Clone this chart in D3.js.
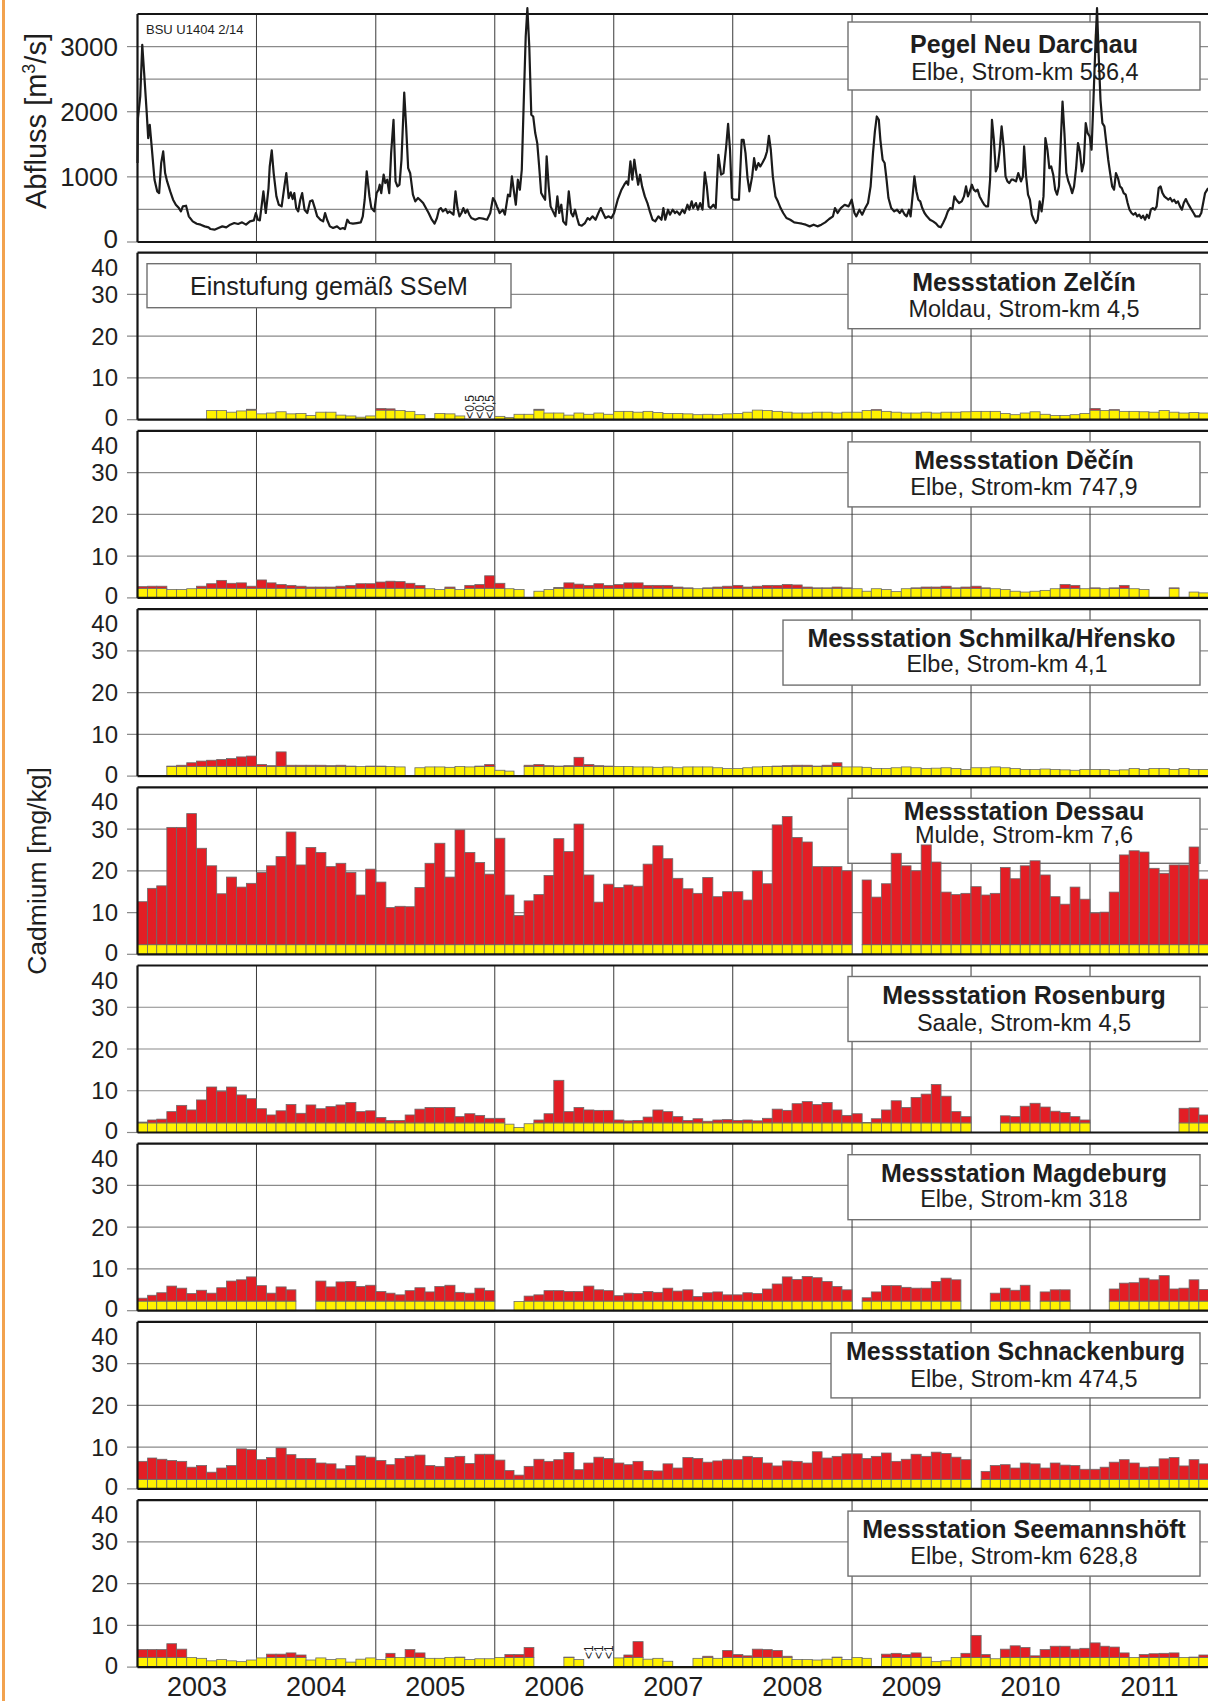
<!DOCTYPE html>
<html>
<head>
<meta charset="utf-8">
<script src="https://cdn.jsdelivr.net/npm/d3@7"></script>
<style>
  html, body { margin: 0; padding: 0; background: #fff; }
  svg { display: block; font-family: "Liberation Sans", Arial, Helvetica, sans-serif; }
</style>
</head>
<body>
<svg id="chart" width="1208" height="1701"></svg>
<script>
// ---------------------------------------------------------------
// Data
// ---------------------------------------------------------------
const yearLabels = ["2003", "2004", "2005", "2006", "2007", "2008", "2009", "2010", "2011"];
const dischargeTicks = [0, 1000, 2000, 3000];
const cadmiumTicks = [0, 10, 20, 30, 40];
// SSeM upper threshold for cadmium [mg/kg]
const cdThreshold = 2.3;

// Discharge at gauge Neu Darchau: [decimal year, m3/s]
const discharge = [
  [2003.000,1211],[2003.004,1900],[2003.023,2234],[2003.040,3026],[2003.056,2592],[2003.076,2029],[2003.090,1595],
  [2003.103,1800],[2003.119,1467],[2003.143,956],[2003.166,777],[2003.182,751],[2003.199,1211],[2003.216,1390],
  [2003.232,1058],[2003.249,930],[2003.275,777],[2003.299,649],[2003.322,572],[2003.348,521],[2003.365,470],
  [2003.381,547],[2003.408,557],[2003.431,394],[2003.464,317],[2003.498,281],[2003.531,266],[2003.564,240],
  [2003.597,225],[2003.614,199],[2003.647,189],[2003.680,215],[2003.713,240],[2003.746,225],[2003.779,266],
  [2003.813,291],[2003.846,276],[2003.879,302],[2003.912,266],[2003.945,317],[2003.978,332],[2003.995,445],
  [2004.012,342],[2004.028,332],[2004.058,777],[2004.078,445],[2004.101,828],[2004.111,1160],[2004.128,1406],
  [2004.144,1058],[2004.167,700],[2004.187,572],[2004.211,547],[2004.234,854],[2004.250,1058],[2004.270,675],
  [2004.287,762],[2004.303,659],[2004.317,751],[2004.333,521],[2004.350,470],[2004.367,649],[2004.383,751],
  [2004.403,496],[2004.426,445],[2004.449,624],[2004.469,639],[2004.493,496],[2004.509,394],[2004.536,342],
  [2004.559,317],[2004.575,445],[2004.592,342],[2004.615,240],[2004.642,215],[2004.675,240],[2004.701,199],
  [2004.725,215],[2004.741,199],[2004.761,342],[2004.781,291],[2004.808,281],[2004.841,291],[2004.874,302],
  [2004.891,394],[2004.907,649],[2004.924,1084],[2004.947,700],[2004.963,521],[2004.987,470],[2005.007,751],
  [2005.023,803],[2005.033,879],[2005.046,751],[2005.066,1033],[2005.080,905],[2005.096,956],[2005.113,751],
  [2005.129,1365],[2005.149,1876],[2005.166,930],[2005.182,854],[2005.199,879],[2005.216,1263],[2005.239,2295],
  [2005.255,1774],[2005.272,1135],[2005.289,1058],[2005.312,726],[2005.332,624],[2005.355,675],[2005.371,649],
  [2005.398,598],[2005.421,521],[2005.444,445],[2005.471,342],[2005.494,281],[2005.514,368],[2005.531,496],
  [2005.547,521],[2005.564,470],[2005.587,506],[2005.604,445],[2005.620,470],[2005.653,419],[2005.670,777],
  [2005.687,521],[2005.703,394],[2005.720,445],[2005.736,521],[2005.753,445],[2005.769,496],[2005.786,419],
  [2005.803,368],[2005.836,342],[2005.869,368],[2005.902,358],[2005.935,342],[2005.962,445],[2005.985,675],
  [2006.002,624],[2006.018,547],[2006.041,445],[2006.068,496],[2006.085,419],[2006.111,726],[2006.128,700],
  [2006.144,1007],[2006.161,777],[2006.177,572],[2006.194,956],[2006.211,803],[2006.227,1109],[2006.244,2183],
  [2006.260,3154],[2006.274,3589],[2006.290,3001],[2006.307,1953],[2006.323,1927],[2006.340,1672],[2006.357,1518],
  [2006.373,1160],[2006.390,751],[2006.406,700],[2006.423,649],[2006.436,1314],[2006.453,854],[2006.469,547],
  [2006.489,470],[2006.509,394],[2006.526,700],[2006.542,445],[2006.559,572],[2006.575,317],[2006.599,266],
  [2006.622,777],[2006.642,445],[2006.658,394],[2006.675,496],[2006.692,368],[2006.708,266],[2006.731,250],
  [2006.758,291],[2006.781,368],[2006.798,342],[2006.821,394],[2006.847,342],[2006.871,445],[2006.891,521],
  [2006.910,445],[2006.930,368],[2006.957,394],[2006.980,368],[2007.003,445],[2007.033,649],[2007.065,803],
  [2007.088,879],[2007.107,930],[2007.121,879],[2007.140,1237],[2007.156,956],[2007.173,1263],[2007.189,1058],
  [2007.205,879],[2007.221,1033],[2007.238,854],[2007.261,700],[2007.283,598],[2007.303,470],[2007.326,342],
  [2007.349,317],[2007.375,394],[2007.401,342],[2007.417,521],[2007.433,342],[2007.456,496],[2007.472,419],
  [2007.495,496],[2007.515,445],[2007.531,470],[2007.554,419],[2007.577,496],[2007.596,445],[2007.619,572],
  [2007.635,496],[2007.655,624],[2007.668,521],[2007.691,598],[2007.707,496],[2007.726,598],[2007.746,496],
  [2007.765,1068],[2007.782,854],[2007.798,547],[2007.814,521],[2007.837,572],[2007.857,521],[2007.879,1339],
  [2007.902,1033],[2007.922,1058],[2007.945,1467],[2007.961,1815],[2007.977,1416],[2007.993,675],[2008.010,649],
  [2008.033,649],[2008.052,649],[2008.075,1569],[2008.091,1569],[2008.107,1365],[2008.124,981],[2008.140,777],
  [2008.163,1007],[2008.179,1288],[2008.195,1109],[2008.215,1212],[2008.231,1160],[2008.248,1212],[2008.270,1288],
  [2008.287,1390],[2008.303,1631],[2008.319,1416],[2008.336,1007],[2008.358,700],[2008.378,624],[2008.401,521],
  [2008.423,445],[2008.450,368],[2008.482,342],[2008.515,302],[2008.547,291],[2008.580,281],[2008.612,266],
  [2008.645,240],[2008.678,266],[2008.710,240],[2008.743,266],[2008.775,302],[2008.808,353],[2008.840,394],
  [2008.857,521],[2008.879,445],[2008.906,521],[2008.938,572],[2008.971,547],[2008.997,649],[2009.020,445],
  [2009.036,394],[2009.062,496],[2009.085,419],[2009.111,521],[2009.134,598],[2009.156,854],[2009.176,1365],
  [2009.192,1697],[2009.208,1927],[2009.225,1876],[2009.238,1569],[2009.257,1263],[2009.274,1212],[2009.290,956],
  [2009.306,675],[2009.329,521],[2009.355,470],[2009.378,496],[2009.401,445],[2009.420,496],[2009.443,419],
  [2009.459,394],[2009.479,496],[2009.492,394],[2009.511,751],[2009.524,1007],[2009.541,777],[2009.557,649],
  [2009.573,624],[2009.590,521],[2009.609,445],[2009.629,394],[2009.655,342],[2009.681,317],[2009.707,281],
  [2009.726,240],[2009.746,225],[2009.765,291],[2009.785,368],[2009.805,470],[2009.824,521],[2009.844,506],
  [2009.860,700],[2009.876,649],[2009.899,598],[2009.922,624],[2009.941,700],[2009.958,854],[2009.974,700],
  [2009.990,777],[2010.007,879],[2010.023,803],[2010.039,777],[2010.055,803],[2010.072,700],[2010.094,624],
  [2010.111,572],[2010.127,547],[2010.143,547],[2010.160,956],[2010.176,1876],[2010.192,1569],[2010.208,1084],
  [2010.225,1160],[2010.241,1416],[2010.257,1774],[2010.274,1467],[2010.290,1007],[2010.306,930],[2010.322,905],
  [2010.339,956],[2010.355,956],[2010.378,930],[2010.397,1058],[2010.420,930],[2010.436,1007],[2010.446,1467],
  [2010.463,1007],[2010.479,726],[2010.495,649],[2010.511,419],[2010.528,342],[2010.544,291],[2010.560,342],
  [2010.577,624],[2010.593,470],[2010.609,700],[2010.625,1595],[2010.642,1416],[2010.658,1135],[2010.674,1160],
  [2010.691,1033],[2010.707,803],[2010.723,726],[2010.739,854],[2010.756,1621],[2010.769,2157],[2010.785,1672],
  [2010.801,1058],[2010.818,930],[2010.834,854],[2010.850,751],[2010.866,854],[2010.883,1135],[2010.899,1518],
  [2010.915,1390],[2010.932,1084],[2010.948,1212],[2010.964,1825],[2010.980,1672],[2010.997,1621],[2011.013,1416],
  [2011.029,2183],[2011.046,3052],[2011.059,3589],[2011.072,2899],[2011.088,2183],[2011.104,1825],[2011.121,1774],
  [2011.137,1518],[2011.153,1263],[2011.169,1058],[2011.186,854],[2011.202,803],[2011.218,1058],[2011.235,981],
  [2011.251,854],[2011.267,828],[2011.283,751],[2011.300,726],[2011.316,598],[2011.332,496],[2011.349,445],
  [2011.365,419],[2011.381,445],[2011.397,394],[2011.414,419],[2011.430,368],[2011.446,404],[2011.463,342],
  [2011.479,419],[2011.495,368],[2011.511,496],[2011.528,521],[2011.544,496],[2011.560,547],[2011.577,828],
  [2011.593,854],[2011.609,751],[2011.625,700],[2011.642,675],[2011.658,649],[2011.674,675],[2011.691,624],
  [2011.707,649],[2011.723,598],[2011.739,624],[2011.756,547],[2011.772,496],[2011.788,598],[2011.805,659],
  [2011.821,598],[2011.837,547],[2011.853,496],[2011.870,445],[2011.886,394],[2011.902,394],[2011.919,394],
  [2011.935,445],[2011.951,598],[2011.967,751],[2011.993,828]
];

// Monthly cadmium in suspended matter [mg/kg], Jan 2003 .. Dec 2011 (null = no sample)
const cdZelcin = [
  null,null,null,null,null,null,null,2.2,2.2,1.8,2.1,2.5,
  1.4,1.6,1.9,1.4,1.5,1.0,1.8,1.8,1.1,0.9,0.6,0.9,
  2.7,2.6,2.2,2.0,1.2,0.3,1.5,1.4,0.9,null,null,null,
  0.8,0.5,1.3,1.3,2.5,1.6,1.6,1.1,1.6,1.3,1.6,1.3,
  2.0,2.0,1.8,2.0,1.7,1.5,1.5,1.4,1.2,1.3,1.2,1.4,
  1.5,1.8,2.3,2.2,2.0,1.8,1.6,1.6,1.8,1.8,1.6,1.8,
  1.8,2.2,2.4,2.0,1.8,1.6,1.6,1.8,1.6,1.8,1.8,1.9,
  2.0,2.0,2.0,1.5,1.2,1.6,1.9,1.3,1.0,1.0,1.2,1.5,
  2.7,2.2,2.4,2.0,2.0,1.9,1.8,2.2,1.8,1.6,1.7,1.6
];
const cdDecin = [
  2.7,2.8,2.8,2.0,2.0,2.2,2.8,3.4,4.2,3.5,3.6,2.8,
  4.3,3.6,3.2,3.0,2.8,2.6,2.6,2.6,2.8,3.0,3.4,3.4,
  3.8,4.0,3.9,3.5,3.0,2.2,2.0,2.6,2.0,3.0,3.2,5.3,
  3.5,2.2,2.0,null,1.6,2.0,2.5,3.6,3.3,3.0,3.4,3.0,
  3.2,3.6,3.6,3.0,3.0,3.0,2.6,2.4,2.2,2.4,2.6,2.8,
  3.0,2.6,2.8,3.0,3.0,3.2,3.1,2.6,2.4,2.4,2.6,2.4,
  2.2,1.6,2.2,2.0,1.5,2.2,2.4,2.6,2.6,2.8,2.4,2.6,
  2.8,2.4,2.2,2.0,1.6,1.4,1.6,1.8,2.2,3.2,3.0,2.2,
  2.4,2.2,2.4,3.0,2.2,2.0,null,null,2.4,null,1.4,1.2
];
const cdSchmilka = [
  null,null,null,2.4,2.6,3.2,3.6,3.8,4.0,4.2,4.6,4.8,
  2.8,2.5,5.8,2.6,2.6,2.6,2.6,2.5,2.6,2.4,2.3,2.4,
  2.4,2.3,2.2,null,2.0,2.2,2.2,2.1,2.3,2.2,2.4,2.8,
  1.4,1.2,null,2.6,2.8,2.5,2.4,2.5,4.5,2.8,2.5,2.4,
  2.3,2.3,2.2,2.2,2.1,2.2,2.0,2.2,2.2,2.2,2.0,1.8,
  1.8,2.0,2.2,2.3,2.4,2.5,2.6,2.6,2.4,2.6,3.2,2.2,
  2.2,2.1,1.8,1.8,2.0,2.2,2.0,1.8,1.9,2.0,1.8,1.6,
  2.0,2.0,2.2,2.0,1.8,1.6,1.6,1.7,1.6,1.5,1.4,1.6,
  1.6,1.6,1.4,1.5,1.8,1.6,1.8,1.8,1.6,1.8,1.6,1.6
];
const cdDessau = [
  12.6,15.8,16.4,30.4,30.4,33.7,25.4,21.2,14.5,18.5,16.1,17.0,
  19.6,21.2,23.4,29.3,21.4,25.6,24.4,21.0,21.8,19.6,14.2,20.4,
  17.3,11.2,11.5,11.4,16.0,21.8,26.6,18.5,29.8,24.4,22.0,19.2,
  27.8,14.2,9.3,12.8,14.3,18.9,27.7,24.6,31.2,19.0,12.5,16.8,
  16.0,16.6,16.3,21.6,26.0,22.9,18.2,15.7,14.6,18.4,13.8,15.0,
  15.0,13.0,20.0,16.9,31.0,33.0,28.0,26.9,21.0,21.0,21.0,20.0,
  null,17.8,13.7,16.9,24.2,21.2,20.0,26.2,22.1,14.9,14.3,14.6,
  16.2,14.2,14.6,20.8,18.1,21.2,22.4,19.0,13.8,12.0,16.1,13.2,
  9.9,10.1,14.9,23.8,24.8,24.5,20.6,19.4,21.4,21.4,25.7,18.0
];
const cdRosenburg = [
  2.5,3.0,3.2,5.0,6.5,5.4,7.8,10.9,9.9,10.9,9.0,8.1,
  5.7,4.2,5.2,6.7,4.6,6.6,5.7,6.2,6.6,7.2,5.0,5.2,
  3.6,2.9,2.9,4.2,5.6,6.0,6.0,6.0,3.8,4.5,4.1,3.4,
  3.4,2.0,1.2,2.1,3.0,4.5,12.5,5.0,6.0,5.4,5.3,5.3,
  3.0,2.8,2.9,3.7,5.4,5.0,3.8,2.9,3.3,2.7,3.0,3.1,
  2.9,3.0,2.8,3.4,5.6,5.3,6.9,7.4,6.7,7.2,5.4,4.1,
  4.5,2.4,3.3,5.4,7.6,6.0,8.4,9.2,11.5,8.7,5.0,3.8,
  null,null,null,4.0,3.8,6.3,7.0,6.1,5.1,4.8,3.8,3.0,
  null,null,null,null,null,null,null,null,null,5.8,5.9,4.2
];
const cdMagdeburg = [
  3.0,3.7,4.3,5.9,5.4,4.1,4.9,4.2,5.5,7.1,7.4,8.1,
  6.0,4.2,5.7,5.0,null,null,7.1,5.7,6.9,7.0,5.8,6.1,
  4.6,4.2,3.8,4.8,5.5,4.5,5.8,6.1,4.4,4.2,5.4,4.8,
  null,null,2.2,3.5,3.8,4.8,4.8,4.6,4.6,5.9,5.0,4.8,
  3.6,4.2,4.1,4.6,4.4,5.4,4.7,5.0,3.4,4.3,4.5,3.8,
  3.8,4.3,4.1,5.2,6.4,8.1,7.5,8.2,7.9,7.0,5.8,5.0,
  null,3.1,4.5,6.0,6.0,5.6,5.4,5.4,7.0,7.8,7.4,null,
  null,null,4.2,5.4,4.9,6.1,null,4.5,5.0,5.0,null,null,
  null,null,5.2,6.6,6.7,7.8,7.4,8.4,5.2,5.4,7.4,5.1
];
const cdSchnackenburg = [
  6.6,7.4,7.1,6.8,6.6,5.2,5.6,4.0,5.0,5.6,9.6,9.4,
  7.0,7.5,9.8,8.2,7.3,7.3,6.2,6.0,4.8,5.6,7.9,7.6,
  6.8,5.8,7.3,7.8,8.1,5.6,5.4,7.5,7.8,6.1,8.3,8.3,
  6.9,4.4,3.3,5.4,7.1,6.6,7.0,8.7,4.6,6.2,7.6,7.3,
  6.2,5.8,6.6,4.4,4.3,6.0,5.0,7.5,7.3,6.4,6.7,7.1,
  7.0,7.8,7.5,6.2,5.5,6.7,6.6,6.2,8.9,7.4,7.8,8.4,
  8.4,7.3,7.8,8.6,6.6,7.1,8.3,7.8,8.8,8.5,7.6,7.0,
  null,4.2,5.6,5.8,5.0,6.2,6.0,5.0,6.2,5.7,5.6,4.7,
  4.7,5.2,6.4,7.0,6.2,5.2,5.3,7.2,7.5,5.5,7.0,6.0
];
const cdSeemannshoeft = [
  4.2,4.2,4.2,5.6,4.3,2.3,2.1,1.5,1.8,1.5,1.3,1.7,
  2.2,3.1,3.1,3.4,2.9,1.7,2.2,1.8,2.0,1.2,1.9,2.2,
  1.8,3.3,2.3,4.2,3.4,2.1,2.1,2.3,2.4,1.8,2.0,2.0,
  2.3,3.0,3.0,4.7,null,null,null,2.4,1.8,null,null,null,
  2.2,2.9,6.1,1.9,2.1,1.4,null,null,2.1,2.6,2.1,4.0,
  3.0,2.7,4.3,4.2,4.0,2.6,1.8,1.8,1.7,1.9,2.4,1.8,
  2.3,2.1,null,3.1,3.3,3.0,3.4,2.4,1.3,1.5,2.3,3.3,
  7.6,3.0,2.0,4.3,5.1,4.7,2.7,4.2,5.0,5.0,4.3,4.5,
  5.8,5.0,4.8,3.4,2.3,3.0,3.2,3.3,3.4,2.3,2.4,2.9
];

// Samples below the limit of quantification: [month index, label]
const belowLimitZelcin = [[33, "<0,5"], [34, "<0,5"], [35, "<0,5"]];
const belowLimitSeemannshoeft = [[45, "<1"], [46, "<1"], [47, "<1"]];

const stationTitles = [
  "Messstation Zelčín", "Messstation Děčín", "Messstation Schmilka/Hřensko", "Messstation Dessau",
  "Messstation Rosenburg", "Messstation Magdeburg", "Messstation Schnackenburg", "Messstation Seemannshöft"
];
const stationSubtitles = [
  "Moldau, Strom-km 4,5", "Elbe, Strom-km 747,9", "Elbe, Strom-km 4,1", "Mulde, Strom-km 7,6",
  "Saale, Strom-km 4,5", "Elbe, Strom-km 318", "Elbe, Strom-km 474,5", "Elbe, Strom-km 628,8"
];
const stationValues = [cdZelcin, cdDecin, cdSchmilka, cdDessau, cdRosenburg, cdMagdeburg, cdSchnackenburg, cdSeemannshoeft];
const stationMarks = [belowLimitZelcin, null, null, null, null, null, null, belowLimitSeemannshoeft];

// ---------------------------------------------------------------
// Layout
// ---------------------------------------------------------------
const svg = d3.select("#chart");
const plotLeft = 137.5, plotRight = 1209;
const topPanel = { top: 14, bottom: 242 };
const firstZero = 419.7, panelStep = 178.2, panelHeight = 167;
// box geometry per station: left edge, title/subtitle offsets below box top, subtitle centre
const boxLeft = [848, 848, 783, 848, 848, 848, 831, 848];
const boxTitleDy = [18, 18, 18, 13, 18, 18, 18, 18];
const boxSubDy = [45, 45, 44, 37, 46, 44, 46, 45];
const boxSubX = [1024, 1024, 1007, 1024, 1024, 1024, 1024, 1024];

const C = {
  yellow: "#FFF200", red: "#E31E25", barStroke: "#6a6a6a",
  grid: "#8a8a8a", yearGrid: "#3a3a3a", frame: "#151515", text: "#1e1e1e",
  orange: "#F2A24E", box: "#707070"
};

const x = d3.scaleUtc()
  .domain([new Date(Date.UTC(2003, 0, 1)), new Date(Date.UTC(2012, 0, 1))])
  .range([plotLeft, plotRight]);

function decYear(v) {
  const y = Math.floor(v);
  const a = Date.UTC(y, 0, 1), b = Date.UTC(y + 1, 0, 1);
  return new Date(a + (v - y) * (b - a));
}
const monthStart = i => new Date(Date.UTC(2003, i, 1));
const yearStarts = d3.range(2004, 2012).map(y => new Date(Date.UTC(y, 0, 1)));

// orange margin rule at the left edge
svg.append("rect").attr("x", 2).attr("y", 0).attr("width", 3).attr("height", 1701).attr("fill", C.orange);

// ---------------------------------------------------------------
// Discharge panel
// ---------------------------------------------------------------
const yQ = d3.scaleLinear().domain([0, 3500]).range([topPanel.bottom, topPanel.top]);
const gQ = svg.append("g");

gQ.selectAll("line.hgrid").data(d3.range(500, 3500, 500)).join("line")
  .attr("x1", plotLeft).attr("x2", 1208)
  .attr("y1", d => yQ(d)).attr("y2", d => yQ(d))
  .attr("stroke", C.grid).attr("stroke-width", 1.2);
gQ.selectAll("line.tick").data(dischargeTicks).join("line")
  .attr("x1", 127).attr("x2", plotLeft)
  .attr("y1", d => yQ(d)).attr("y2", d => yQ(d))
  .attr("stroke", C.grid).attr("stroke-width", 1.2);
gQ.selectAll("line.vgrid").data(yearStarts).join("line")
  .attr("x1", d => x(d)).attr("x2", d => x(d))
  .attr("y1", topPanel.top).attr("y2", topPanel.bottom)
  .attr("stroke", C.yearGrid).attr("stroke-width", 1);

// frame
gQ.append("line").attr("x1", plotLeft).attr("x2", 1208).attr("y1", topPanel.top).attr("y2", topPanel.top)
  .attr("stroke", C.frame).attr("stroke-width", 2.2);
gQ.append("line").attr("x1", plotLeft).attr("x2", 1208).attr("y1", topPanel.bottom).attr("y2", topPanel.bottom)
  .attr("stroke", C.frame).attr("stroke-width", 2.2);
gQ.append("line").attr("x1", plotLeft).attr("x2", plotLeft).attr("y1", topPanel.top).attr("y2", topPanel.bottom)
  .attr("stroke", C.frame).attr("stroke-width", 2.2);

// tick labels; "0" nudged up a little to stay clear of the panel below
gQ.selectAll("text.tick").data(dischargeTicks).join("text")
  .attr("x", 118).attr("y", d => d === 0 ? yQ(d) - 3 : yQ(d))
  .attr("text-anchor", "end").attr("dominant-baseline", "central")
  .attr("font-size", 26).attr("fill", C.text).text(d => d);

gQ.append("text").attr("x", 146).attr("y", 29).attr("dominant-baseline", "central")
  .attr("font-size", 13).attr("fill", C.text).text("BSU U1404 2/14");

// station box
function labelBox(g, left, top, h, title, sub, titleDy, subDy, subX) {
  g.append("rect").attr("x", left).attr("y", top).attr("width", 1200 - left).attr("height", h)
    .attr("fill", "#fff").attr("stroke", C.box).attr("stroke-width", 1.4);
  const cx = (left + 1200) / 2;
  g.append("text").attr("x", cx).attr("y", top + titleDy).attr("text-anchor", "middle")
    .attr("dominant-baseline", "central").attr("font-size", 25).attr("font-weight", "bold")
    .attr("fill", C.text).text(title);
  g.append("text").attr("x", subX).attr("y", top + subDy).attr("text-anchor", "middle")
    .attr("dominant-baseline", "central").attr("font-size", 23.5)
    .attr("fill", C.text).text(sub);
}
labelBox(gQ, 848, 22, 68, "Pegel Neu Darchau", "Elbe, Strom-km 536,4", 21.5, 50, 1025);

const line = d3.line().x(d => x(decYear(d[0]))).y(d => yQ(d[1]));
gQ.append("path").datum(discharge).attr("d", line)
  .attr("fill", "none").attr("stroke", "#1b1b1b").attr("stroke-width", 2.2)
  .attr("stroke-linejoin", "round");

// axis title
const qTitle = svg.append("text")
  .attr("transform", "translate(46,121) rotate(-90)")
  .attr("text-anchor", "middle").attr("font-size", 29).attr("fill", C.text);
qTitle.append("tspan").text("Abfluss [m");
qTitle.append("tspan").attr("font-size", 18).attr("dy", -11).text("3");
qTitle.append("tspan").attr("dy", 11).text("/s]");

// ---------------------------------------------------------------
// Cadmium panels
// ---------------------------------------------------------------
stationValues.forEach((vals, k) => {
  const zero = firstZero + k * panelStep;
  const top = zero - panelHeight;
  const y = d3.scaleLinear().domain([0, 40]).range([zero, top]);
  const g = svg.append("g");

  g.selectAll("line.hgrid").data([10, 20, 30]).join("line")
    .attr("x1", 127).attr("x2", 1208)
    .attr("y1", d => y(d)).attr("y2", d => y(d))
    .attr("stroke", C.grid).attr("stroke-width", 1.2);
  g.append("line").attr("x1", 127).attr("x2", plotLeft).attr("y1", zero).attr("y2", zero)
    .attr("stroke", C.grid).attr("stroke-width", 1.2);
  g.selectAll("line.vgrid").data(yearStarts).join("line")
    .attr("x1", d => x(d)).attr("x2", d => x(d))
    .attr("y1", top).attr("y2", zero)
    .attr("stroke", C.yearGrid).attr("stroke-width", 1);

  // label box sits beneath the bars
  labelBox(g, boxLeft[k], top + 11, 65, stationTitles[k], stationSubtitles[k],
    boxTitleDy[k], boxSubDy[k], boxSubX[k]);

  const months = vals.map((v, i) => ({ i, v })).filter(d => d.v != null);
  // yellow part: up to the SSeM threshold
  g.selectAll("rect.low").data(months).join("rect")
    .attr("x", d => x(monthStart(d.i)))
    .attr("width", d => x(monthStart(d.i + 1)) - x(monthStart(d.i)))
    .attr("y", d => y(Math.min(d.v, cdThreshold)))
    .attr("height", d => y(0) - y(Math.min(d.v, cdThreshold)))
    .attr("fill", C.yellow).attr("stroke", C.barStroke).attr("stroke-width", 0.8);
  // red part: above the threshold
  g.selectAll("rect.high").data(months.filter(d => d.v > cdThreshold)).join("rect")
    .attr("x", d => x(monthStart(d.i)))
    .attr("width", d => x(monthStart(d.i + 1)) - x(monthStart(d.i)))
    .attr("y", d => y(d.v))
    .attr("height", d => y(cdThreshold) - y(d.v))
    .attr("fill", C.red).attr("stroke", C.barStroke).attr("stroke-width", 0.8);

  const marks = stationMarks[k];
  if (marks) {
    const lift = k === 7 ? 8 : 1;
    g.selectAll("text.lim").data(marks).join("text")
      .attr("transform", d => {
        const cx = (x(monthStart(d[0])) + x(monthStart(d[0] + 1))) / 2;
        return `translate(${cx + 4},${zero - lift}) rotate(-90)`;
      })
      .attr("font-size", 12).attr("fill", C.text).text(d => d[1]);
  }

  // frame
  g.append("line").attr("x1", plotLeft).attr("x2", 1208).attr("y1", top).attr("y2", top)
    .attr("stroke", C.frame).attr("stroke-width", 2.2);
  g.append("line").attr("x1", plotLeft).attr("x2", 1208).attr("y1", zero).attr("y2", zero)
    .attr("stroke", C.frame).attr("stroke-width", 2.2);
  g.append("line").attr("x1", plotLeft).attr("x2", plotLeft).attr("y1", top).attr("y2", zero)
    .attr("stroke", C.frame).attr("stroke-width", 2.2);

  // tick labels; the top one is pulled down clear of the panel above, "0" nudged up
  g.selectAll("text.tick").data(cadmiumTicks).join("text")
    .attr("x", 118).attr("y", d => d === 40 ? y(d) + 14.6 : d === 0 ? y(d) - 2 : y(d))
    .attr("text-anchor", "end").attr("dominant-baseline", "central")
    .attr("font-size", 24).attr("fill", C.text).text(d => d);
});

// SSeM note in the first cadmium panel
const notePanelTop = firstZero - panelHeight;
svg.append("rect").attr("x", 147).attr("y", notePanelTop + 11).attr("width", 364).attr("height", 44)
  .attr("fill", "#fff").attr("stroke", C.box).attr("stroke-width", 1.4);
svg.append("text").attr("x", 329).attr("y", notePanelTop + 33).attr("text-anchor", "middle")
  .attr("dominant-baseline", "central").attr("font-size", 25).attr("fill", C.text)
  .text("Einstufung gemäß SSeM");

// cadmium axis title
svg.append("text").attr("transform", "translate(46,871) rotate(-90)")
  .attr("text-anchor", "middle").attr("font-size", 26.5).attr("fill", C.text)
  .text("Cadmium [mg/kg]");

// year labels
svg.selectAll("text.year").data(yearLabels).join("text")
  .attr("x", d => (x(new Date(Date.UTC(+d, 0, 1))) + x(new Date(Date.UTC(+d + 1, 0, 1)))) / 2)
  .attr("y", 1687).attr("text-anchor", "middle").attr("dominant-baseline", "central")
  .attr("font-size", 27).attr("fill", C.text).text(d => d);
</script>
</body>
</html>
